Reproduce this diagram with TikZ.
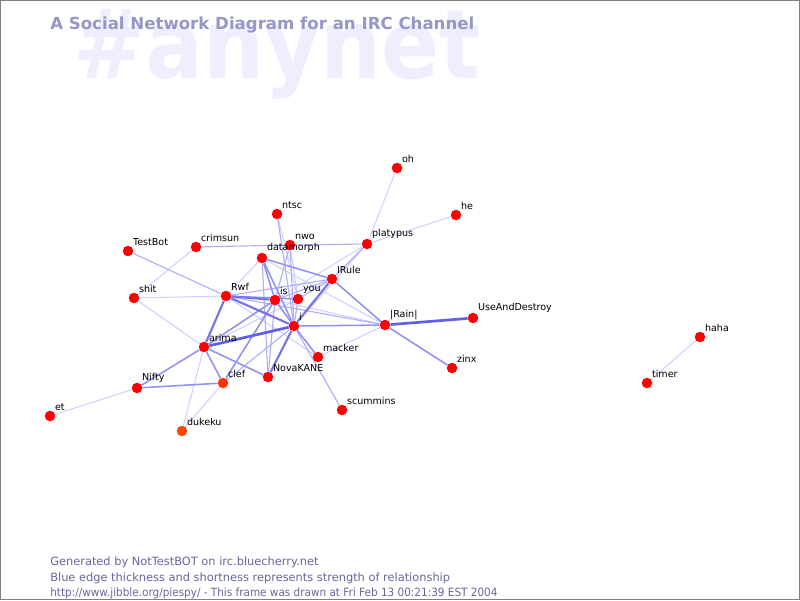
\documentclass[tikz,border=0pt]{standalone}
\usepackage{fontspec}
\setmainfont{DejaVu Sans}
\usetikzlibrary{calc}
\definecolor{titleblue}{RGB}{150,150,200}
\definecolor{markblue}{RGB}{238,238,255}
\definecolor{footblue}{RGB}{102,102,160}
\definecolor{nickred}{RGB}{255,0,0}
\definecolor{nickorange}{RGB}{255,50,0}
\definecolor{nickamber}{RGB}{250,70,10}
\pgfdeclarelayer{back}
\pgfdeclarelayer{edges}
\pgfsetlayers{back,edges,main}
\tikzset{
	nick/.style={circle, fill=nickred, inner sep=0, minimum size=10.5*0.025cm},
	lbl/.style={font=\fontsize{6.8}{8}\selectfont, inner sep=0.6pt, label distance=0},
	weak/.style={draw={rgb,255:red,205;green,205;blue,255}, line width=0.7pt},
	light/.style={draw={rgb,255:red,175;green,175;blue,250}, line width=0.8pt},
	mid/.style={draw={rgb,255:red,145;green,145;blue,242}, line width=1.1pt},
	strong/.style={draw={rgb,255:red,115;green,115;blue,236}, line width=1.5pt},
	vstrong/.style={draw={rgb,255:red,95;green,95;blue,232}, line width=1.9pt}
}
\begin{document}
\begin{tikzpicture}[x=0.025cm, y=-0.025cm]
		%%%%% FRAME %%%%%
		\useasboundingbox (0,0) rectangle (800,600);
		\begin{pgfonlayer}{back}
		\fill[white] (0,0) rectangle (800,600);
		\node[anchor=base west, inner sep=0, text=markblue, font=\fontsize{61}{61}\selectfont\bfseries] (mark) at (73,78) {\scalebox{1}[1.12]{\#anynet}};
		\end{pgfonlayer}
		\draw[black!50, line width=0.8pt] (0.5,0.5) rectangle (799.5,599.5);
		
		\node[anchor=base west, inner sep=0, text=titleblue, font=\fontsize{11.8}{13}\selectfont\bfseries] (title) at (50,29) {A Social Network Diagram for an IRC Channel};
		
		%%%%% NICKS %%%%%
		\node[nick, label={[lbl]north east:oh}] (oh) at (397,168) {};
		\node[nick, label={[lbl]north east:he}] (he) at (456,215) {};
		\node[nick, label={[lbl]north east:ntsc}] (ntsc) at (277,214) {};
		\node[nick, label={[lbl]north east:TestBot}] (testbot) at (128,251) {};
		\node[nick, label={[lbl]north east:crimsun}] (crimsun) at (196,247) {};
		\node[nick, label={[lbl]north east:nwo}] (nwo) at (290,245) {};
		\node[nick, label={[lbl]north east:datamorph}] (datamorph) at (262,258) {};
		\node[nick, label={[lbl]north east:platypus}] (platypus) at (367,244) {};
		\node[nick, label={[lbl]north east:IRule}] (irule) at (332,279) {};
		\node[nick, label={[lbl]north east:shit}] (shit) at (134,298) {};
		\node[nick, label={[lbl]north east:Rwf}] (rwf) at (226,296) {};
		\node[nick, label={[lbl]north east:is}] (is) at (275,300) {};
		\node[nick, label={[lbl]north east:you}] (you) at (298,299) {};
		\node[nick, label={[lbl]north east:i}] (i) at (294,326) {};
		\node[nick, label={[lbl]north east:|Rain|}] (rain) at (385,325) {};
		\node[nick, label={[lbl]north east:UseAndDestroy}] (usedestroy) at (473,318) {};
		\node[nick, label={[lbl]north east:arima}] (arima) at (204,347) {};
		\node[nick, label={[lbl]north east:macker}] (macker) at (318,357) {};
		\node[nick, label={[lbl]north east:zinx}] (zinx) at (452,368) {};
		\node[nick, fill=nickorange, label={[lbl]north east:clef}] (clef) at (223,383) {};
		\node[nick, label={[lbl]north east:NovaKANE}] (novakane) at (268,377) {};
		\node[nick, label={[lbl]north east:Nifty}] (nifty) at (137,388) {};
		\node[nick, label={[lbl]north east:et}] (et) at (50,416) {};
		\node[nick, fill=nickamber, label={[lbl]north east:dukeku}] (dukeku) at (182,431) {};
		\node[nick, label={[lbl]north east:scummins}] (scummins) at (342,410) {};
		\node[nick, label={[lbl]north east:haha}] (haha) at (700,337) {};
		\node[nick, label={[lbl]north east:timer}] (timer) at (647,383) {};
		
		%%%%% EDGES %%%%%
		\begin{pgfonlayer}{edges}
		\draw[weak] (et) -- (nifty);
		\draw[weak] (arima) -- (dukeku);
		\draw[weak] (clef) -- (dukeku);
		\draw[weak] (arima) -- (shit);
		\draw[weak] (crimsun) -- (shit);
		\draw[weak] (shit) -- (rwf);
		\draw[weak] (platypus) -- (oh);
		\draw[weak] (platypus) -- (he);
		\draw[weak] (platypus) -- (i);
		\draw[weak] (platypus) -- (is);
		\draw[weak] (ntsc) -- (you);
		\draw[weak] (rain) -- (macker);
		\draw[weak] (rwf) -- (macker);
		\draw[weak] (datamorph) -- (rain);
		\draw[weak] (rwf) -- (datamorph);
		\draw[weak] (nwo) -- (you);
		\draw[weak] (arima) -- (you);
		\draw[weak] (is) -- (rain);
		\draw[weak] (haha) -- (timer);
		
		\draw[light] (testbot) -- (rwf);
		\draw[light] (ntsc) -- (i);
		\draw[light] (nwo) -- (i);
		\draw[light] (nwo) -- (is);
		\draw[light] (you) -- (i);
		\draw[light] (platypus) -- (irule);
		\draw[light] (is) -- (irule);
		\draw[light] (rwf) -- (irule);
		\draw[light] (i) -- (clef);
		\draw[light] (datamorph) -- (novakane);
		\draw[light] (is) -- (novakane);
		\draw[light] (i) -- (scummins);
		\draw[light] (crimsun) -- (nwo);
		\draw[light] (nwo) -- (platypus);
		\draw[light] (rwf) -- (rain);
		\draw[light] (you) -- (irule);
		
		\draw[mid] (nifty) -- (arima);
		\draw[mid] (nifty) -- (clef);
		\draw[mid] (arima) -- (clef);
		\draw[mid] (arima) -- (novakane);
		\draw[mid] (irule) -- (rain);
		\draw[mid] (rain) -- (zinx);
		\draw[mid] (i) -- (rain);
		\draw[mid] (i) -- (macker);
		\draw[mid] (datamorph) -- (irule);
		\draw[mid] (datamorph) -- (is);
		\draw[mid] (datamorph) -- (i);
		\draw[mid] (is) -- (i);
		\draw[mid] (is) -- (clef);
		\draw[mid] (arima) -- (is);
		\draw[mid] (rwf) -- (you);
		
		\draw[strong] (i) -- (novakane);
		\draw[strong] (irule) -- (i);
		\draw[strong] (rwf) -- (is);
		\draw[strong] (rwf) -- (i);
		\draw[strong] (arima) -- (rwf);
		\draw[vstrong] (arima) -- (i);
		\draw[vstrong] (rain) -- (usedestroy);
		\end{pgfonlayer}
		
		%%%%% FOOTER %%%%%
		\node[anchor=base west, inner sep=0, text=footblue, font=\fontsize{8.1}{9}\selectfont] (gen) at (50,565) {Generated by NotTestBOT on irc.bluecherry.net};
		\node[anchor=base west, inner sep=0, text=footblue, font=\fontsize{8.1}{9}\selectfont] (expl) at (50,581) {Blue edge thickness and shortness represents strength of relationship};
		\node[anchor=base west, inner sep=0, text=footblue, font=\fontsize{8.1}{9}\selectfont] (stamp) at (50,596) {\scalebox{0.918}[1]{http://www.jibble.org/piespy/ - This frame was drawn at Fri Feb 13 00:21:39 EST 2004}};
\end{tikzpicture}
\end{document}
